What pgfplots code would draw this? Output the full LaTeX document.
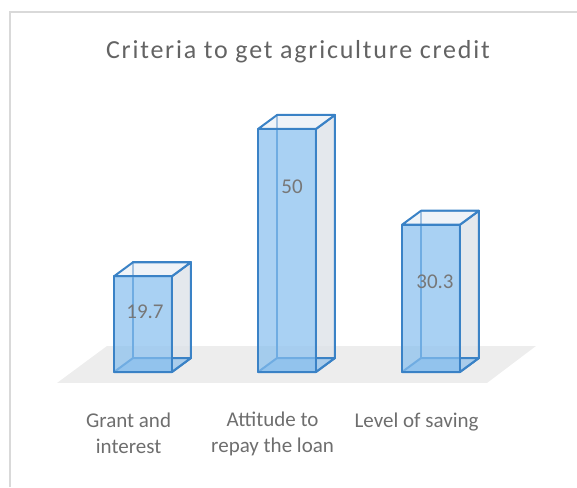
\documentclass[border=0pt]{standalone}
\usepackage{fontspec}
\setmainfont{Carlito}
\newfontfamily\titlefont[LetterSpace=6.8]{Carlito}
\usepackage{pgfplots}
\pgfplotsset{compat=1.18}
\definecolor{edge}{HTML}{3A82C6}
\definecolor{frontfill}{HTML}{86BEEE}
\definecolor{sidefill}{HTML}{D9DEE6}
\definecolor{topfill}{HTML}{E6ECF3}
\definecolor{floorfill}{HTML}{EDEDED}
\definecolor{framecol}{HTML}{D9D9D9}
\definecolor{labelcol}{HTML}{6E6E6E}
\definecolor{valcol}{HTML}{777777}
% one box: xl xr xl+depth xr+depth value value+depth
\newcommand{\boxfaces}[6]{
  \addplot[draw=edge, line width=2pt, fill=white, fill opacity=0.35, line join=round]
    coordinates {(#3,2.88) (#4,2.88) (#4,#6) (#3,#6)} -- cycle;
  \addplot[draw=edge, line width=2pt, fill=sidefill, fill opacity=0.7, line join=round]
    coordinates {(#2,0) (#4,2.88) (#4,#6) (#2,#5)} -- cycle;
  \addplot[draw=edge, line width=2pt, fill=topfill, fill opacity=0.6, line join=round]
    coordinates {(#1,#5) (#2,#5) (#4,#6) (#3,#6)} -- cycle;
  \addplot[draw=edge, line width=2pt, fill=frontfill, fill opacity=0.6, line join=round]
    coordinates {(#1,0) (#3,2.88) (#4,2.88) (#2,0)} -- cycle;
}
\newcommand{\boxfront}[3]{
  \addplot[draw=edge, line width=2.2pt, fill=frontfill, fill opacity=0.7, line join=round]
    coordinates {(#1,0) (#2,0) (#2,#3) (#1,#3)} -- cycle;
}
\begin{document}
\begin{tikzpicture}
\useasboundingbox (0,0) rectangle (577pt,487pt);
\begin{axis}[
  at={(0,0)}, anchor=south west,
  scale only axis, width=577pt, height=487pt,
  xmin=-0.993, xmax=3.014, ymin=-23.66, ymax=76.54,
  hide axis, clip=false
]
% chart frame, top and left only
\addplot[framecol, line width=1.5pt] coordinates {(-0.924,-23.66) (-0.924,74.07) (3.014,74.07)};
% floor
\addplot[draw=none, fill=floorfill] coordinates {(-0.597,-2.26) (-0.250,5.35) (2.729,5.35) (2.389,-2.26)} -- cycle;
\boxfaces{-0.201}{0.201}{-0.069}{0.333}{19.7}{22.58}
\boxfaces{0.799}{1.201}{0.931}{1.333}{50}{52.88}
\boxfaces{1.799}{2.201}{1.931}{2.333}{30.3}{33.18}
\boxfront{-0.201}{0.201}{19.7}
\boxfront{0.799}{1.201}{50}
\boxfront{1.799}{2.201}{30.3}
\node[text=valcol, font=\fontsize{21}{24}\selectfont] at (axis cs:0.014,12.3) {19.7};
\node[text=valcol, font=\fontsize{21}{24}\selectfont] at (axis cs:1.035,38.07) {50};
\node[text=valcol, font=\fontsize{21}{24}\selectfont] at (axis cs:2.028,18.5) {30.3};
\node[text=labelcol, align=center, font=\fontsize{21}{26}\selectfont] at (axis cs:-0.10,-12.7) {Grant and\\interest};
\node[text=labelcol, align=center, font=\fontsize{21}{26}\selectfont] at (axis cs:0.90,-12.7) {Attitude to\\repay the loan};
\node[text=labelcol, align=center, font=\fontsize{21}{26}\selectfont] at (axis cs:1.90,-10.2) {Level of saving};
\node[text=labelcol!90!black, font=\fontsize{26}{30}\selectfont\titlefont] at (axis cs:1.076,66.0) {Criteria to get agriculture credit};
\end{axis}
\end{tikzpicture}
\end{document}
